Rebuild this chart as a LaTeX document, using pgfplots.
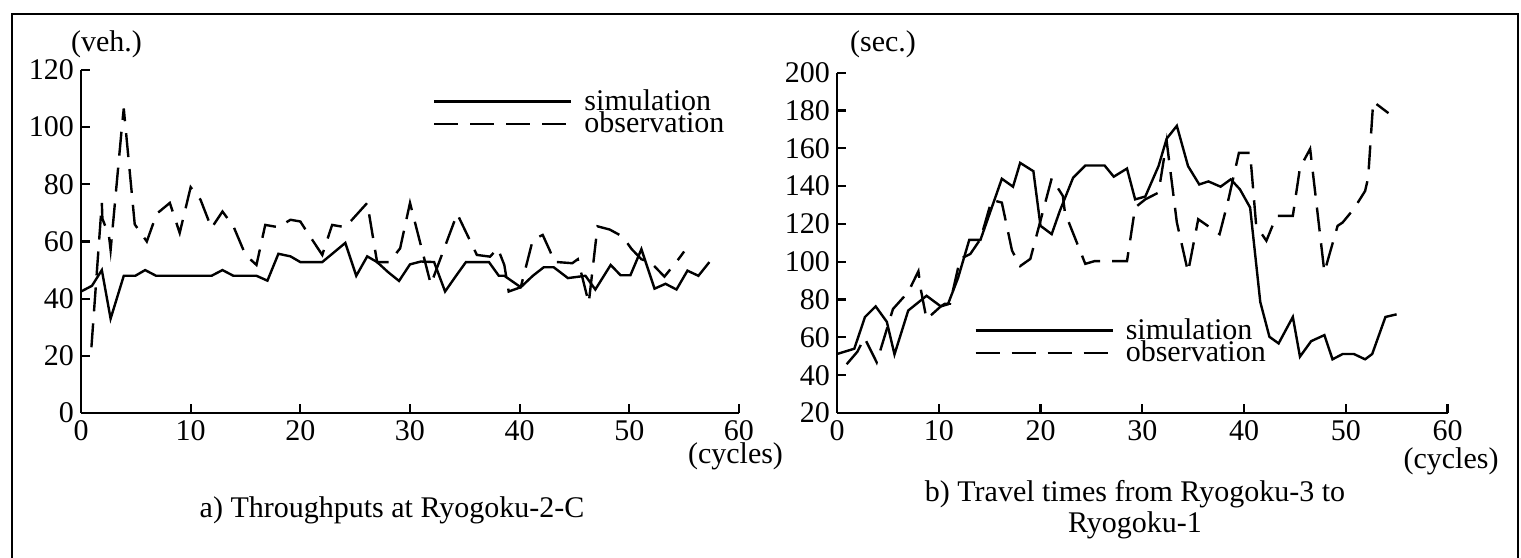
\documentclass[border=0pt]{standalone}
\usepackage{fontspec}
\setmainfont{Liberation Serif}
\usepackage{pgfplots}
\pgfplotsset{compat=1.18}
\newcommand\fs{\fontsize{15pt}{15.5pt}\selectfont}
\pgfplotsset{
 mystyle/.style={
  scale only axis, anchor=south west,
  axis x line=bottom, axis y line=left,
  axis line style={-, line width=1.1pt},
  tick align=inside, major tick length=4.5pt,
  every tick/.style={line width=1.1pt, black},
  xmin=0, xmax=60, xtick={0,10,...,60},
  tick label style={font=\fs},
  /pgf/number format/assume math mode=true,
  legend style={draw=none, fill=none, inner sep=0pt, row sep=-0.7pt, column sep=6pt,
    font=\fs, cells={anchor=west}, nodes={inner sep=0pt}, anchor=north west},
  legend image code/.code={\draw[##1] (0pt,0pt) -- (68.5pt,0pt);},
  clip=false,
 },
 sim/.style={black, line width=1.2pt, solid},
 obs/.style={black, line width=1.2pt, dash pattern=on 12pt off 6pt},
}
\begin{document}
\begin{tikzpicture}
\useasboundingbox (0,0) rectangle (760.5pt,278.5pt);
\draw[line width=0.8pt] (6pt,-2pt) -- (6pt,271.5pt) -- (759pt,271.5pt) -- (759pt,-2pt);

\begin{axis}[mystyle, at={(40.5pt,72pt)}, width=329pt, height=171.5pt,
  ymin=0, ymax=120, ytick={0,20,...,120},
  legend style={at={(0.5345,0.9446)}}]
\addplot[sim] coordinates {(0,42.5) (1,44.5) (1.9,50) (2.7,33) (3.9,48) (4.95,48) (5.85,50) (6.85,48) (11.9,48) (12.9,50) (13.9,48) (16,48) (17,46.3) (18,55.7) (19.1,54.8) (20,52.8) (22,52.8) (24.1,59.5) (25.1,48) (26.1,54.8) (27,52.8) (28,49.3) (29,46.2) (30,52) (31,53) (32.2,52.8) (33.2,42.5) (34.2,48) (35.1,52.8) (37.2,52.8) (38.1,48) (38.6,48) (40.1,44) (41.2,48) (42.2,51) (43.1,51) (44.4,47.2) (46,48) (46.9,43.2) (48.3,51.8) (49.2,48.2) (50.1,48.2) (51.1,57.3) (52.3,43.5) (53.3,45.2) (54.3,43.2) (55.3,49.8) (56.3,48) (57.3,52.8)};
\addlegendentry{simulation}
\addplot[obs] coordinates {(0.95,23) (1.9,73.5) (1.95,68) (2.55,62) (2.7,57) (3.75,101) (3.9,106.5) (4.9,66) (6.0,60) (6.9,69.7) (8.1,73.5) (9.0,63) (10.0,79) (10.9,74.6) (11.9,64.7) (12.9,70.5) (13.9,65.3) (15.0,55.3) (16.0,51.8) (16.8,65.8) (18.0,65) (19.1,67.6) (20.0,67) (20.5,64) (22.0,55.3) (22.9,65.8) (24.1,65) (26.1,73.5) (27.0,52.8) (28.1,52.8) (29.1,57.6) (30.0,73.5) (31.9,45) (34.3,69.7) (36.1,55.3) (37.3,54.7) (38.0,57.6) (38.6,51.8) (39.0,42.5) (40.1,44) (41.2,60.6) (42.1,62.3) (42.8,56.4) (43.1,52.9) (44.8,52.4) (45.3,53.8) (46.3,38.5) (47.1,65.3) (48.2,64.2) (49.4,61.7) (50.2,57.4) (51.1,53.8) (52,52.5) (53.2,47.7) (54.4,53.4) (55,56.5)};
\addlegendentry{observation}
\end{axis}

\begin{axis}[mystyle, at={(418.5pt,72pt)}, width=305.25pt, height=170.15pt,
  ymin=20, ymax=200, ytick={20,40,...,200},
  legend style={at={(0.2244,0.279)}}]
\addplot[sim] coordinates {(0,51.2) (1.7,54) (2.75,70.8) (3.8,76.4) (4.9,68.2) (5.65,51) (7.0,74.2) (8.8,82) (10.2,76.4) (10.9,77.5) (11.9,91.5) (13.0,111.6) (14.1,111.6) (16.2,143.9) (17.3,139.7) (18.0,152.3) (19.3,147.9) (20.0,119) (21.1,114.6) (21.9,126.9) (23.2,144.4) (24.4,150.9) (26.3,150.9) (27.2,145) (28.5,149.3) (29.3,133) (30.3,134.5) (31.6,150.6) (32.4,165.1) (33.4,171.9) (34.5,150.6) (35.6,140.9) (36.5,142.5) (37.7,139.7) (38.7,143.6) (39.6,138.3) (40.6,128.7) (41.6,78.7) (42.5,60.3) (43.4,56.8) (44.8,70.8) (45.5,49.8) (46.6,58) (47.9,61.2) (48.7,48.4) (49.7,51.2) (50.8,51.2) (51.9,48.4) (52.6,51.2) (53.9,70.8) (55,72.2)};
\addlegendentry{simulation}
\addplot[obs] coordinates {(0.95,45.8) (2.0,52.4) (2.7,59.8) (3.9,46.8) (5.5,75) (7.0,84) (8.0,95) (8.25,85) (8.8,69.6) (10.2,76.4) (10.6,77.8) (11.1,77.8) (12.1,101.5) (13.1,104.1) (14.1,112) (15.2,132.7) (16.2,131.3) (17.2,105.9) (18.0,97.7) (19.0,101.5) (21.1,144.1) (22.2,134.8) (22.4,126) (24.4,98.9) (25.3,100.3) (28.5,100.3) (29.3,128.7) (30.3,133) (31.6,136.6) (32.4,163.7) (33.4,120.8) (34.5,94.5) (35.5,122.5) (37.6,114.6) (38.4,131.3) (39.5,157.6) (40.6,157.6) (41.2,119) (42.2,111.1) (43.2,124.3) (44.8,124.3) (45.5,149.7) (46.5,159.7) (47.9,94.5) (49.2,119) (49.7,120.8) (50.8,128) (51.9,137.4) (52.2,144.4) (52.7,184.7) (54.2,178.6)};
\addlegendentry{observation}
\end{axis}

\node[font=\fs] at (53.25pt,256.5pt) {(veh.)};
\node[font=\fs] at (441.5pt,256.5pt) {(sec.)};
\node[font=\fs] at (367.75pt,50.5pt) {(cycles)};
\node[font=\fs] at (725.5pt,48pt) {(cycles)};
\node[font=\fs] at (196pt,23.5pt) {a) Throughputs at Ryogoku-2-C};
\node[font=\fs, align=center] at (567.5pt,23.75pt) {b) Travel times from Ryogoku-3 to\\Ryogoku-1};
\end{tikzpicture}
\end{document}
